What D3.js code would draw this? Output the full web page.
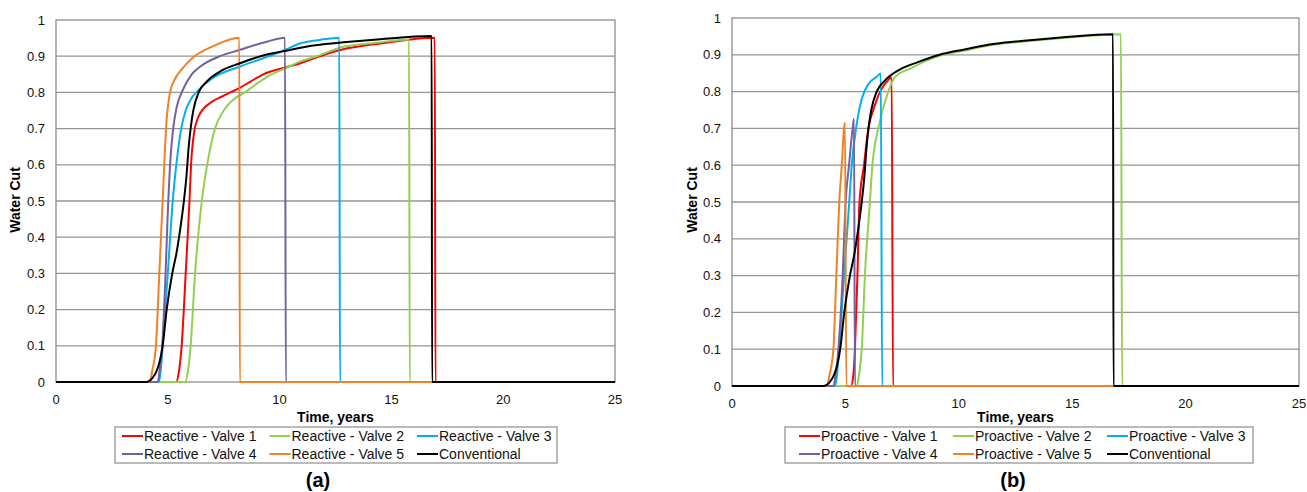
<!DOCTYPE html>
<html>
<head>
<meta charset="utf-8">
<script src="https://cdn.jsdelivr.net/npm/d3@7/dist/d3.min.js"></script>
<style>
  html, body { margin: 0; padding: 0; background: #fff; }
  svg { display: block; font-family: "Liberation Sans", Arial, sans-serif; }
</style>
</head>
<body>
<svg id="chart" width="1307" height="492"></svg>
<script>
// ---- axis ticks ----
const xTicks = [0, 5, 10, 15, 20, 25];
const yTicks = [0, 0.1, 0.2, 0.3, 0.4, 0.5, 0.6, 0.7, 0.8, 0.9, 1];
const yTickLabels = ["0", "0.1", "0.2", "0.3", "0.4", "0.5", "0.6", "0.7", "0.8", "0.9", "1"];

// ---- series names and colours ----
const reactiveNames = ["Reactive - Valve 1", "Reactive - Valve 2", "Reactive - Valve 3",
                       "Reactive - Valve 4", "Reactive - Valve 5", "Conventional"];
const proactiveNames = ["Proactive - Valve 1", "Proactive - Valve 2", "Proactive - Valve 3",
                        "Proactive - Valve 4", "Proactive - Valve 5", "Conventional"];
const seriesColors = ["#ff0000", "#92d050", "#00b0f0", "#7460a0", "#f28125", "#000000"];

// ---- water cut vs time, [years, fraction] ----
const conventional = [[0,0],[4.05,0],[4.3,0.01],[4.5,0.03],[4.65,0.06],[4.77,0.1],[4.95,0.2],
  [5.2,0.3],[5.4,0.36],[5.55,0.42],[5.72,0.5],[5.85,0.58],[5.92,0.64],[6.02,0.7],[6.14,0.75],
  [6.38,0.8],[6.74,0.83],[7.4,0.86],[8.2,0.88],[9.15,0.9],[10.2,0.914],[11.6,0.93],[13,0.939],
  [14.5,0.947],[16.8,0.956],[16.82,0],[25,0]];

const reactiveV1 = [[0,0],[5.37,0],[5.5,0.03],[5.62,0.1],[5.8,0.3],[5.97,0.5],[6.04,0.6],
  [6.18,0.69],[6.35,0.73],[6.6,0.755],[7.0,0.775],[7.4,0.788],[7.8,0.8],[8.2,0.812],[8.7,0.83],
  [9.27,0.85],[10.24,0.869],[10.9,0.88],[11.8,0.9],[12.85,0.919],[14.5,0.935],[16.94,0.951],
  [16.97,0],[25,0]];

const reactiveV2 = [[0,0],[5.77,0],[5.9,0.03],[6.02,0.1],[6.22,0.3],[6.52,0.5],[6.76,0.6],
  [7.11,0.7],[7.5,0.75],[7.93,0.78],[8.45,0.8],[9.0,0.825],[9.57,0.848],[10.24,0.866],
  [10.9,0.885],[11.66,0.9],[12.85,0.926],[14.3,0.937],[15.79,0.946],[15.82,0],[25,0]];

const reactiveV3 = [[0,0],[4.6,0],[4.68,0.03],[4.77,0.1],[5.0,0.3],[5.22,0.5],[5.38,0.6],
  [5.6,0.7],[5.8,0.75],[6.05,0.783],[6.4,0.808],[7.0,0.839],[8.2,0.871],[9.3,0.895],
  [10.24,0.917],[10.9,0.935],[11.8,0.945],[12.67,0.951],[12.7,0],[25,0]];

const reactiveV4 = [[0,0],[4.55,0],[4.63,0.03],[4.75,0.1],[4.9,0.3],[5.02,0.5],[5.1,0.6],
  [5.24,0.7],[5.4,0.76],[5.62,0.8],[6.07,0.85],[6.44,0.871],[7.33,0.9],[8.2,0.917],
  [9.42,0.94],[10.24,0.951],[10.28,0],[25,0]];

const reactiveV5 = [[0,0],[4.2,0],[4.3,0.03],[4.47,0.1],[4.62,0.3],[4.77,0.5],[4.84,0.6],
  [4.92,0.7],[5.1,0.8],[5.3,0.835],[5.6,0.862],[6.1,0.895],[7.0,0.927],[8.2,0.951],
  [8.22,0],[25,0]];

const proactiveV1 = [[0,0],[5.25,0],[5.35,0.03],[5.42,0.1],[5.53,0.3],[5.62,0.5],[5.82,0.6],
  [6.01,0.7],[6.23,0.75],[6.53,0.8],[6.8,0.825],[7.04,0.838],[7.1,0],[25,0]];

const proactiveV2 = [[0,0],[5.5,0],[5.6,0.03],[5.72,0.1],[5.86,0.3],[6.08,0.5],[6.19,0.6],
  [6.45,0.7],[6.89,0.8],[7.19,0.84],[7.9,0.864],[9.15,0.897],[10.2,0.911],[11.6,0.928],
  [13,0.937],[15,0.948],[17.15,0.956],[17.2,0],[25,0]];

const proactiveV3 = [[0,0],[4.54,0],[4.63,0.03],[4.72,0.1],[4.94,0.3],[5.17,0.5],[5.28,0.6],
  [5.47,0.7],[5.72,0.78],[6.01,0.82],[6.38,0.84],[6.56,0.849],[6.62,0],[25,0]];

const proactiveV4 = [[0,0],[4.47,0],[4.57,0.03],[4.69,0.1],[4.88,0.3],[5.01,0.5],[5.16,0.6],
  [5.32,0.7],[5.38,0.726],[5.42,0],[25,0]];

const proactiveV5 = [[0,0],[4.18,0],[4.3,0.03],[4.47,0.1],[4.6,0.3],[4.73,0.5],[4.84,0.6],
  [4.94,0.7],[4.98,0.716],[5.04,0],[25,0]];

const reactiveSeries = [reactiveV1, reactiveV2, reactiveV3, reactiveV4, reactiveV5, conventional];
const proactiveSeries = [proactiveV1, proactiveV2, proactiveV3, proactiveV4, proactiveV5, conventional];

const svg = d3.select("#chart");

function drawPanel(p) {
  const g = svg.append("g");
  const x = d3.scaleLinear().domain([0, 25]).range([p.left, p.right]);
  const y = d3.scaleLinear().domain([0, 1]).range([p.bottom, p.top]);

  // horizontal gridlines
  g.append("g").selectAll("line").data(yTicks.slice(1, -1)).join("line")
    .attr("x1", p.left).attr("x2", p.right)
    .attr("y1", d => y(d)).attr("y2", d => y(d))
    .attr("stroke", "#959595").attr("stroke-width", 1.3);

  // plot frame
  g.append("rect")
    .attr("x", p.left).attr("y", p.top)
    .attr("width", p.right - p.left).attr("height", p.bottom - p.top)
    .attr("fill", "none").attr("stroke", "#8c8c8c").attr("stroke-width", 1.3);

  // y tick labels
  g.append("g").selectAll("text").data(yTicks).join("text")
    .attr("x", p.left - 11).attr("y", d => y(d)).attr("dy", "0.35em")
    .attr("text-anchor", "end").attr("font-size", 13).attr("fill", "#111")
    .text((d, i) => yTickLabels[i]);

  // x tick labels
  g.append("g").selectAll("text").data(xTicks).join("text")
    .attr("x", d => x(d)).attr("y", p.bottom + 17).attr("dy", "0.35em")
    .attr("text-anchor", "middle").attr("font-size", 13).attr("fill", "#111")
    .text(d => d);

  // axis titles
  g.append("text")
    .attr("x", (p.left + p.right) / 2).attr("y", 417).attr("dy", "0.35em")
    .attr("text-anchor", "middle").attr("font-size", 14).attr("font-weight", "bold")
    .text("Time, years");
  g.append("text")
    .attr("transform", `translate(${p.yTitleX},200) rotate(-90)`)
    .attr("dy", "0.35em").attr("text-anchor", "middle")
    .attr("font-size", 14).attr("font-weight", "bold")
    .text("Water Cut");

  // series, smoothed between the read points
  const line = d3.line().x(d => x(d[0])).y(d => y(d[1])).curve(d3.curveMonotoneX);
  g.append("g").selectAll("path").data(p.series).join("path")
    .attr("d", line)
    .attr("fill", "none")
    .attr("stroke", (d, i) => seriesColors[i])
    .attr("stroke-width", 2)
    .attr("stroke-linejoin", "round");

  // legend
  const lg = g.append("g");
  lg.append("rect")
    .attr("x", p.legend.x0).attr("y", 427)
    .attr("width", p.legend.x1 - p.legend.x0).attr("height", 36)
    .attr("fill", "#fff").attr("stroke", "#8c8c8c").attr("stroke-width", 1.2);
  const items = lg.selectAll("g").data(p.names).join("g")
    .attr("transform", (d, i) => `translate(${p.legend.cols[i % 3]},${i < 3 ? 436 : 454})`);
  items.append("line")
    .attr("x1", 0).attr("x2", 21).attr("y1", 0).attr("y2", 0)
    .attr("stroke", (d, i) => seriesColors[i]).attr("stroke-width", 2);
  items.append("text")
    .attr("x", 22).attr("y", 0).attr("dy", "0.35em")
    .attr("font-size", 14).attr("fill", "#111")
    .text(d => d);

  // panel caption
  g.append("text")
    .attr("x", p.captionX).attr("y", 480).attr("dy", "0.35em")
    .attr("text-anchor", "middle").attr("font-size", 20).attr("font-weight", "bold")
    .text(p.caption);
}

drawPanel({
  left: 56, right: 615, top: 20, bottom: 382, yTitleX: 15,
  series: reactiveSeries, names: reactiveNames,
  legend: { x0: 115, x1: 557, cols: [122, 269.5, 417] },
  caption: "(a)", captionX: 318
});

drawPanel({
  left: 732, right: 1299, top: 18, bottom: 386, yTitleX: 692,
  series: proactiveSeries, names: proactiveNames,
  legend: { x0: 785, x1: 1253, cols: [799, 953, 1107] },
  caption: "(b)", captionX: 1013
});
</script>
</body>
</html>
